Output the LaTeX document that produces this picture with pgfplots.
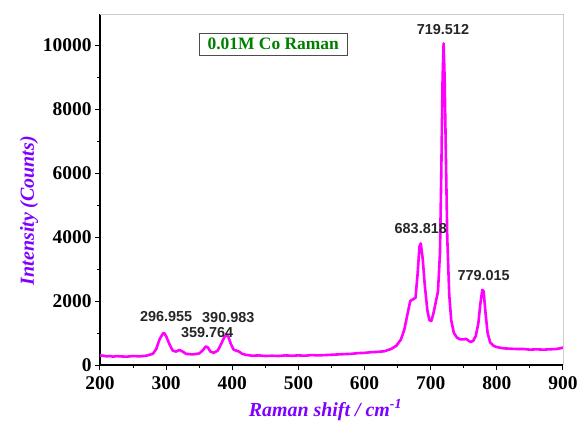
\documentclass[border=0pt]{standalone}
\usepackage{pgfplots}
\pgfplotsset{compat=1.18}
\usepackage{fontspec}
\setmainfont{Liberation Serif}
\newfontfamily\arialfont{Liberation Sans}
\definecolor{magentaC}{RGB}{255,0,255}
\definecolor{violetC}{RGB}{127,0,255}
\definecolor{greenC}{RGB}{0,128,0}
\begin{document}
\begin{tikzpicture}
\path[use as bounding box] (-100bp,-60bp) rectangle (480bp,365bp);
\begin{axis}[
  at={(0,0)}, anchor=south west,
  scale only axis, width=463bp, height=351bp,
  xmin=200, xmax=900, ymin=0, ymax=10970,
  axis x line*=bottom, axis y line*=left,
  axis line style={black, line width=1.2bp, -},
  xtick={200,300,...,900}, ytick={0,2000,...,10000},
  scaled y ticks=false,
  minor x tick num=1, minor y tick num=1,
  tick align=outside,
  major tick length=5bp, minor tick length=3bp,
  every tick/.style={black, line width=1bp},
  /pgf/number format/assume math mode=true,
  /pgf/number format/1000 sep={},
  tick label style={font=\fontsize{19.5}{19.5}\selectfont\bfseries},
  xticklabel style={yshift=-3bp},
  xlabel={\textit{Raman shift / cm\textsuperscript{-1}}},
  ylabel={\textit{Intensity (Counts)}},
  label style={font=\fontsize{20}{20}\selectfont\bfseries, text=violetC},
  xlabel style={at={(ticklabel cs:0.487)}, yshift=-3bp},
  ylabel style={at={(ticklabel cs:0.44)}, yshift=-2bp},
  clip=false,
]
\draw[gray!40, line width=0.8bp] (rel axis cs:0,1) -- (rel axis cs:1,1) -- (rel axis cs:1,0);
\addplot[magentaC, line width=2.6bp, line join=round] coordinates {
(200,300)(205,290)(210,270)(215,280)(220,260)(225,280)(230,270)(240,260)
(250,280)(260,270)(270,290)(280,350)(285,500)(290,800)(295,980)(297,1000)
(300,900)(305,650)(310,450)(315,420)(320,470)(325,420)(330,350)(340,330)
(350,360)(355,450)(360,580)(363,550)(367,420)(372,380)(378,450)(383,650)
(388,870)(391,950)(394,880)(398,650)(402,480)(406,450)(410,420)(415,350)
(420,320)(430,290)(440,300)(450,280)(460,290)(470,280)(480,300)(490,290)
(500,300)(510,290)(520,310)(530,300)(540,310)(550,320)(560,330)(570,340)
(580,350)(590,370)(600,380)(610,400)(620,410)(630,430)(640,500)(648,600)
(655,800)(660,1100)(665,1600)(669,2000)(673,2050)(677,2100)(680,2800)
(683,3700)(685,3800)(688,3300)(691,2500)(695,1700)(698,1400)(701,1380)
(704,1600)(708,2000)(711,2300)(714,3500)(716,6000)(718,9000)(719.5,10050)
(721,9000)(723,6500)(725,4000)(728,2200)(731,1400)(735,1000)(740,850)
(745,800)(750,800)(753,820)(756,780)(760,720)(764,750)(768,900)(772,1300)
(775,1900)(778,2350)(780,2300)(783,1600)(786,1000)(790,700)(795,600)
(800,560)(810,520)(820,510)(830,500)(840,500)(850,480)(860,490)(870,480)
(880,490)(890,500)(900,540)
};
\begin{scope}[every node/.style={font=\arialfont\fontsize{14.5}{14.5}\selectfont\bfseries, text=black!85}]
\node at (axis cs:300,1500) {296.955};
\node at (axis cs:362,1030) {359.764};
\node at (axis cs:394,1470) {390.983};
\node at (axis cs:685,4280) {683.818};
\node at (axis cs:718.5,10470) {719.512};
\node at (axis cs:780,2810) {779.015};
\end{scope}
\node[draw=black!70, line width=0.8bp, fill=white, text=greenC, inner xsep=8bp, inner ysep=5bp,
  font=\fontsize{17.5}{17.5}\selectfont\bfseries] at (axis cs:462,10030) {0.01M Co Raman};
\end{axis}
\end{tikzpicture}
\end{document}
